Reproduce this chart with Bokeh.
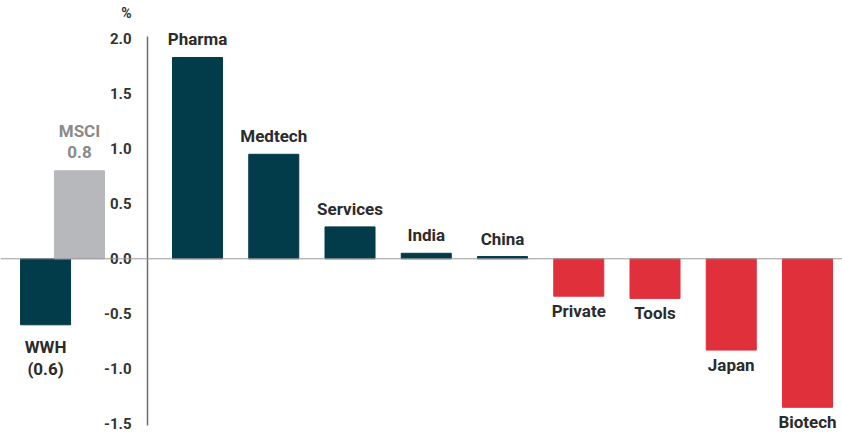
from bokeh.plotting import figure
from bokeh.models import (ColumnDataSource, LinearAxis, FixedTicker, PrintfTickFormatter,
                          Span, Range1d, Grid)
from bokeh.core.properties import value
from bokeh.embed import file_html
from bokeh.resources import INLINE

# ---------------- data ----------------
sectors = ["Pharma", "Medtech", "Services", "India", "China", "Private", "Tools", "Japan", "Biotech"]
sector_values = [1.83, 0.95, 0.29, 0.05, 0.02, -0.34, -0.36, -0.83, -1.35]
benchmarks = ["WWH", "MSCI"]
benchmark_values = [-0.6, 0.8]
y_ticks = [-1.5, -1.0, -0.5, 0.0, 0.5, 1.0, 1.5, 2.0]
unit_label = "%"

# ---------------- style / layout ----------------
TEAL = "#023B4A"
RED = "#E0303B"
GREY = "#B7B8BC"
TEXT = "#2B2B2B"
GREY_TEXT = "#8A8A8A"
FONT = "Roboto"
W, H = 842, 436
BAR_W = 0.656
AXIS_X = -0.656
bench_x = [-1.993, -1.548]
sector_x = list(range(len(sectors)))

p = figure(width=W, height=H, output_backend="svg", toolbar_location=None,
           x_range=Range1d(-2.584, 8.459), y_range=Range1d(-1.6155, 2.348),
           x_axis_location=None, y_axis_location=None, min_border=0,
           outline_line_color=None)
for g in p.select(type=Grid):
    g.visible = False

# zero line
p.add_layout(Span(location=0, dimension="width", line_color="#9A9A9A", line_width=1))

# bars
sector_colors = [TEAL if v >= 0 else RED for v in sector_values]
bench_colors = [TEAL, GREY]
bars = ColumnDataSource(dict(
    x=bench_x + sector_x,
    top=benchmark_values + sector_values,
    color=bench_colors + sector_colors,
))
p.vbar(x="x", top="top", bottom=0, width=BAR_W, color="color", source=bars)

# y axis at a fixed location inside the plot
yaxis = LinearAxis(fixed_location=AXIS_X,
                   bounds=(y_ticks[0] - 0.015, y_ticks[-1] + 0.02),
                   ticker=FixedTicker(ticks=y_ticks),
                   formatter=PrintfTickFormatter(format="%.1f"))
yaxis.axis_line_color = "#6B6B6B"
yaxis.axis_line_width = 1.5
yaxis.major_tick_line_color = None
yaxis.minor_tick_line_color = None
yaxis.major_label_standoff = 10
yaxis.major_label_text_font = FONT
yaxis.major_label_text_font_style = "bold"
yaxis.major_label_text_font_size = "15px"
yaxis.major_label_text_color = "#333333"
p.add_layout(yaxis, "left")

# unit label
p.text(x=[AXIS_X], y=[y_ticks[-1]], text=[unit_label], x_offset=-21, y_offset=-26,
       text_align="center", text_baseline="middle", text_font=value(FONT),
       text_font_style="bold", text_font_size="14px", text_color="#333333")

# sector labels
pos = [(x, v, s) for x, v, s in zip(sector_x, sector_values, sectors) if v >= 0]
neg = [(x, v, s) for x, v, s in zip(sector_x, sector_values, sectors) if v < 0]
common = dict(text_align="center", text_baseline="alphabetic", text_font=value(FONT),
              text_font_style="bold", text_font_size="17px")
p.text(x=[a[0] for a in pos], y=[a[1] for a in pos], text=[a[2] for a in pos],
       y_offset=-18, text_color=TEXT, **common)
p.text(x=[a[0] for a in neg], y=[a[1] for a in neg], text=[a[2] for a in neg],
       y_offset=15, text_color=TEXT, **common)

# benchmark labels (name + value)
def fmt(v):
    return f"({abs(v):.1f})" if v < 0 else f"{v:.1f}"

for x, v, name, col in zip(bench_x, benchmark_values, benchmarks, [TEXT, GREY_TEXT]):
    if v < 0:
        name_off, val_off = 22, 44
    else:
        name_off, val_off = -40, -19
    p.text(x=[x], y=[v], text=[name], y_offset=name_off, text_color=col, **common)
    p.text(x=[x], y=[v], text=[fmt(v)], y_offset=val_off, text_color=col, **common)

open("out.html", "w").write(file_html(p, INLINE))
